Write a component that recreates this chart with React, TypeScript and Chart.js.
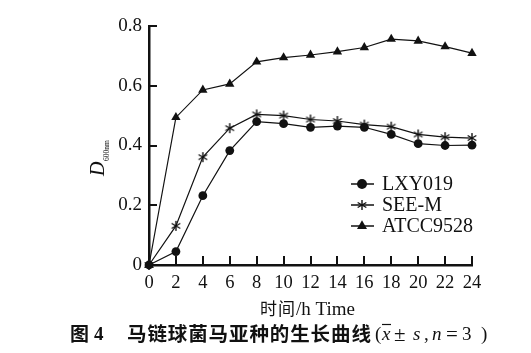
import React, { useEffect, useRef } from 'react';
import { Chart, registerables } from 'chart.js';

Chart.register(...registerables);

// ---- data ----
const hours = [0, 2, 4, 6, 8, 10, 12, 14, 16, 18, 20, 22, 24];
const lxy019 = [0, 0.045, 0.232, 0.383, 0.48, 0.473, 0.461, 0.465, 0.461, 0.437, 0.406, 0.4, 0.401];
const seeM = [0, 0.131, 0.361, 0.458, 0.504, 0.5, 0.487, 0.482, 0.47, 0.463, 0.437, 0.428, 0.425];
const atcc9528 = [0, 0.494, 0.586, 0.606, 0.68, 0.694, 0.703, 0.714, 0.728, 0.756, 0.75, 0.731, 0.709];
const seriesNames = ['LXY019', 'SEE-M', 'ATCC9528'];
const xTicks = [0, 2, 4, 6, 8, 10, 12, 14, 16, 18, 20, 22, 24];
const xTickLabels = ['0', '2', '4', '6', '8', '10', '12', '14', '16', '18', '20', '22', '24'];
const yTicks = [0, 0.2, 0.4, 0.6, 0.8];
const yTickLabels = ['0', '0.2', '0.4', '0.6', '0.8'];
const xTitleCn = '时间';
const xTitleEn = '/h Time';
const yTitleMain = 'D';
const yTitleSub = '600nm';
const captionFig = '图';
const captionNum = '4';
const captionText = '马链球菌马亚种的生长曲线';

const SERIF = "'Liberation Serif', 'Times New Roman', serif";
const CJK = "'Noto Sans CJK SC', sans-serif";
const INK = '#111';

function makeStar(): HTMLCanvasElement {
  const c = document.createElement('canvas');
  c.width = 12;
  c.height = 12;
  const g = c.getContext('2d')!;
  g.strokeStyle = INK;
  g.lineWidth = 1.4;
  const cx = 6, cy = 6, r = 5;
  for (let i = 0; i < 3; i++) {
    const a = Math.PI / 2 + (i * Math.PI) / 3;
    g.beginPath();
    g.moveTo(cx + Math.cos(a) * r, cy + Math.sin(a) * r);
    g.lineTo(cx - Math.cos(a) * r, cy - Math.sin(a) * r);
    g.stroke();
  }
  return c;
}

export default function App() {
  const ref = useRef<HTMLCanvasElement | null>(null);

  useEffect(() => {
    const canvas = ref.current;
    if (!canvas) return;
    const star = makeStar();
    const styles: any[] = ['circle', star, 'triangle'];
    const radii = [4.4, 6, 5.4];
    const all = [lxy019, seeM, atcc9528];

    const decor = {
      id: 'decor',
      afterDraw(chart: any) {
        const ctx = chart.ctx as CanvasRenderingContext2D;
        const xs = chart.scales.x;
        const ys = chart.scales.y;
        const area = chart.chartArea;
        ctx.save();
        // inward ticks
        ctx.strokeStyle = INK;
        ctx.lineWidth = 2;
        xs.ticks.forEach((t: any) => {
          const px = Math.round(xs.getPixelForValue(t.value));
          ctx.beginPath();
          ctx.moveTo(px, area.bottom);
          ctx.lineTo(px, area.bottom - 9);
          ctx.stroke();
        });
        ys.ticks.forEach((t: any) => {
          const py = Math.round(ys.getPixelForValue(t.value));
          ctx.beginPath();
          ctx.moveTo(area.left, py);
          ctx.lineTo(area.left + 8, py);
          ctx.stroke();
        });

        // legend
        ctx.fillStyle = INK;
        ctx.textBaseline = 'middle';
        ctx.textAlign = 'left';
        const lx = 362;
        const rowsY = [184, 205, 226];
        seriesNames.forEach((name, i) => {
          const y = rowsY[i];
          ctx.strokeStyle = INK;
          ctx.lineWidth = 1.5;
          ctx.beginPath();
          ctx.moveTo(lx - 11, y);
          ctx.lineTo(lx + 12, y);
          ctx.stroke();
          if (i === 1) {
            ctx.drawImage(star, lx - 6, y - 6);
          } else {
            ctx.beginPath();
            if (i === 0) {
              ctx.arc(lx, y, 5, 0, Math.PI * 2);
            } else {
              const r = 5.8;
              ctx.moveTo(lx, y - r);
              ctx.lineTo(lx + r * 0.866, y + r * 0.5);
              ctx.lineTo(lx - r * 0.866, y + r * 0.5);
              ctx.closePath();
            }
            ctx.fill();
          }
          ctx.font = `20px ${SERIF}`;
          ctx.fillText(name, 382, y + 1);
        });

        // y title
        ctx.save();
        ctx.translate(104, 176);
        ctx.rotate(-Math.PI / 2);
        ctx.textBaseline = 'alphabetic';
        ctx.font = `italic 20px ${SERIF}`;
        ctx.fillText(yTitleMain, 0, 0);
        const dw = ctx.measureText(yTitleMain).width;
        ctx.font = `7.5px ${SERIF}`;
        ctx.fillText(yTitleSub, dw + 0.5, 4.5);
        ctx.restore();

        // x title
        ctx.textBaseline = 'middle';
        ctx.font = `17px ${CJK}`;
        (ctx as any).letterSpacing = '1px';
        ctx.fillText(xTitleCn, 260, 309);
        (ctx as any).letterSpacing = '0px';
        ctx.font = `19px ${SERIF}`;
        ctx.fillText(xTitleEn, 296, 310);

        // caption
        const cy = 334;
        ctx.font = `bold 19px ${CJK}`;
        ctx.fillText(captionFig, 70, cy);
        ctx.font = `bold 19px ${SERIF}`;
        ctx.fillText(captionNum, 94, cy + 1);
        ctx.font = `bold 19.5px ${CJK}`;
        (ctx as any).letterSpacing = '0.9px';
        ctx.fillText(captionText, 127, cy);
        (ctx as any).letterSpacing = '0px';
        ctx.font = `19px ${SERIF}`;
        ctx.fillText('(', 375, cy + 1);
        ctx.font = `italic 19px ${SERIF}`;
        ctx.fillText('x', 382, cy + 1);
        ctx.lineWidth = 1.2;
        ctx.beginPath();
        ctx.moveTo(382, 324.5);
        ctx.lineTo(391, 324.5);
        ctx.stroke();
        ctx.font = `21px ${SERIF}`;
        ctx.fillText('±', 394, cy + 1);
        ctx.font = `italic 19px ${SERIF}`;
        ctx.fillText('s', 413, cy + 1);
        ctx.font = `19px ${SERIF}`;
        ctx.fillText(',', 424, cy + 1);
        ctx.font = `italic 19px ${SERIF}`;
        ctx.fillText('n', 432, cy + 1);
        ctx.font = `21px ${SERIF}`;
        ctx.fillText('=', 446, cy + 1);
        ctx.font = `19px ${SERIF}`;
        ctx.fillText('3', 462, cy + 1);
        ctx.fillText(')', 481, cy + 1);
        ctx.restore();
      },
    };

    const chart = new Chart(canvas, {
      type: 'line',
      data: {
        datasets: all.map((vals, i) => ({
          label: seriesNames[i],
          data: hours.map((h, j) => ({ x: h, y: vals[j] })),
          borderColor: INK,
          backgroundColor: INK,
          borderWidth: 1.2,
          pointStyle: styles[i],
          pointRadius: radii[i],
          pointBackgroundColor: INK,
          pointBorderColor: INK,
          pointBorderWidth: 0,
          tension: 0,
          clip: false as any,
        })),
      },
      options: {
        responsive: false,
        animation: false,
        events: [],
        layout: { padding: { left: 0, top: 26, right: 59, bottom: 0 } },
        plugins: {
          legend: { display: false },
          tooltip: { enabled: false },
          title: { display: false },
        },
        scales: {
          x: {
            type: 'linear',
            min: 0,
            max: 24,
            afterBuildTicks: (s: any) => {
              s.ticks = xTicks.map((v) => ({ value: v }));
            },
            afterFit: (s: any) => {
              s.height = 88;
            },
            grid: { display: false, drawTicks: false },
            border: { display: true, color: INK, width: 2.5 },
            ticks: {
              color: INK,
              padding: 7,
              maxRotation: 0,
              autoSkip: false,
              font: { family: SERIF, size: 18.5 },
              callback: (_v: any, i: number) => xTickLabels[i],
            },
          },
          y: {
            type: 'linear',
            min: 0,
            max: 0.8,
            afterBuildTicks: (s: any) => {
              s.ticks = yTicks.map((v) => ({ value: v }));
            },
            afterFit: (s: any) => {
              s.width = 149;
            },
            grid: { display: false, drawTicks: false },
            border: { display: true, color: INK, width: 2.5 },
            ticks: {
              color: INK,
              padding: 7,
              autoSkip: false,
              font: { family: SERIF, size: 19 },
              callback: (_v: any, i: number) => yTickLabels[i],
            },
          },
        },
      },
      plugins: [decor],
    } as any);

    return () => chart.destroy();
  }, []);

  return (
    <div style={{ position: 'absolute', left: 0, top: 0, width: 531, height: 353, background: '#fff' }}>
      <canvas ref={ref} width={531} height={353} style={{ width: 531, height: 353, display: 'block' }} />
    </div>
  );
}
